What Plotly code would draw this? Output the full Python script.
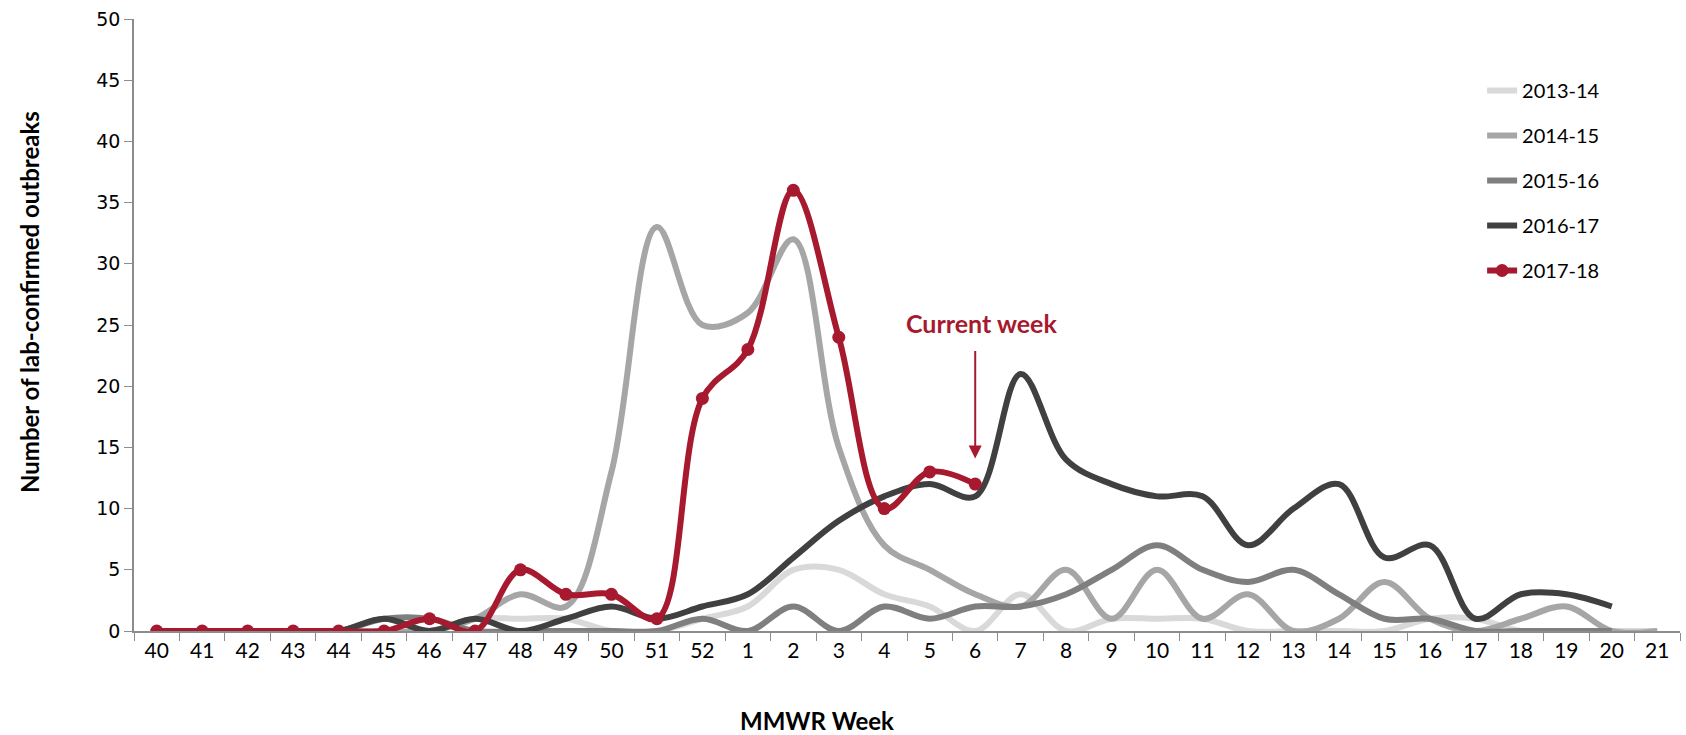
import plotly.graph_objects as go

weeks = [str(w) for w in list(range(40, 53)) + list(range(1, 22))]

s2013_14 = [0, 0, 0, 0, 0, 0, 0, 1, 1, 1, 0, 0, 1, 2, 5, 5, 3, 2, 0, 3, 0, 1, 1, 1, 0, 0, 0, 0, 1, 1, 0, 0, 0, 0]
s2014_15 = [0, 0, 0, 0, 0, 0, 0, 1, 3, 2, 13, 33, 25, 26, 32, 15, 7, 5, 3, 2, 5, 1, 5, 1, 3, 0, 1, 4, 1, 0, 1, 2, 0, 0]
s2015_16 = [0, 0, 0, 0, 0, 1, 1, 0, 0, 0, 0, 0, 1, 0, 2, 0, 2, 1, 2, 2, 3, 5, 7, 5, 4, 5, 3, 1, 1, 0, 0, 0, 0]
s2016_17 = [0, 0, 0, 0, 0, 1, 0, 1, 0, 1, 2, 1, 2, 3, 6, 9, 11, 12, 11, 21, 14, 12, 11, 11, 7, 10, 12, 6, 7, 1, 3, 3, 2]
s2017_18 = [0, 0, 0, 0, 0, 0, 1, 0, 5, 3, 3, 1, 19, 23, 36, 24, 10, 13, 12]

series = [
    ("2013-14", s2013_14, "#D9D9D9"),
    ("2014-15", s2014_15, "#A6A6A6"),
    ("2015-16", s2015_16, "#7F7F7F"),
    ("2016-17", s2016_17, "#404040"),
]
red = "#A6192E"
current_week = "6"

fig = go.Figure()
for name, vals, col in series:
    fig.add_trace(go.Scatter(
        x=weeks[:len(vals)], y=vals, name=name, mode="lines",
        line=dict(color=col, width=6, shape="spline", smoothing=1.0),
        legendgroup=name,
    ))
fig.add_trace(go.Scatter(
    x=weeks[:len(s2017_18)], y=s2017_18, name="2017-18", mode="lines+markers",
    line=dict(color=red, width=6, shape="spline", smoothing=1.0),
    marker=dict(color=red, size=13),
    legendgroup="2017-18",
))

L, R, T, B = 134, 6, 19, 104
PW = 1686 - L - R
PH = 735 - T - B
fig.update_layout(
    width=1686, height=735,
    margin=dict(l=L, r=R, t=T, b=B),
    paper_bgcolor="white", plot_bgcolor="white",
    showlegend=True,
    legend=dict(
        x=0.872, y=0.915, xanchor="left", yanchor="top",
        font=dict(family="Lato", size=20, color="black"),
        tracegroupgap=16, bgcolor="rgba(0,0,0,0)",
    ),
    xaxis=dict(
        type="category", categoryorder="array", categoryarray=weeks,
        range=[-0.5, len(weeks) - 0.5],
        showline=True, linecolor="#8C8C8C", linewidth=1.5,
        ticks="outside", tickson="boundaries", ticklen=8, tickcolor="#8C8C8C",
        tickfont=dict(family="Lato", size=21, color="black"),
        showgrid=False, zeroline=False,
    ),
    yaxis=dict(
        range=[0, 50], dtick=5, tick0=0,
        showline=True, linecolor="#8C8C8C", linewidth=1.5,
        ticks="outside", ticklen=8, tickcolor="#8C8C8C",
        tickfont=dict(family="DejaVu Sans", size=19, color="black"),
        showgrid=False, zeroline=False,
    ),
)

fig.add_annotation(
    text="<b>Number of lab-confirmed outbreaks</b>", xref="paper", yref="paper",
    x=(29 - L) / PW, y=(631 - 302) / PH, xanchor="center", yanchor="middle",
    textangle=-90, showarrow=False, font=dict(family="Lato", size=24, color="black"),
)
fig.add_annotation(
    text="<b>MMWR Week</b>", xref="paper", yref="paper",
    x=(817 - L) / PW, y=(631 - 720) / PH, xanchor="center", yanchor="middle",
    showarrow=False, font=dict(family="Lato", size=24, color="black"),
)
cw = weeks.index(current_week)
fig.add_annotation(
    text="<b>Current week</b>", x=cw, y=25.2, xref="x", yref="y",
    xshift=6, showarrow=False, font=dict(family="Lato", size=25, color=red),
)
fig.add_annotation(
    text="", x=cw, y=14.1, ax=cw, ay=23, xref="x", yref="y", axref="x", ayref="y",
    showarrow=True, arrowhead=2, arrowsize=1.3, arrowwidth=2, arrowcolor=red,
)

fig.write_html("out.html")
